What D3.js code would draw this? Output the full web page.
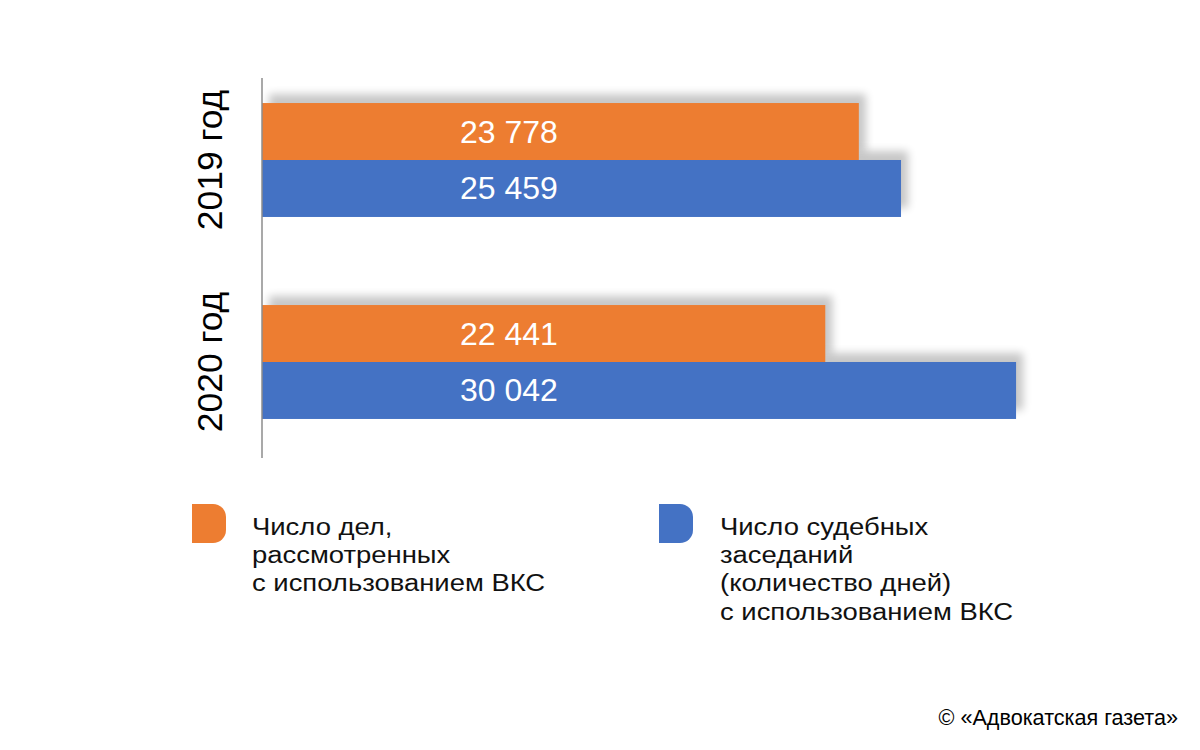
<!DOCTYPE html>
<html>
<head>
<meta charset="utf-8">
<script src="https://cdn.jsdelivr.net/npm/d3@7"></script>
<style>
  html, body { margin: 0; padding: 0; background: #fff; }
  svg { display: block; }
  text { font-family: "Liberation Sans", Arial, Helvetica, sans-serif; }
</style>
</head>
<body>
<script>
const years = ["2019 год", "2020 год"];
const seriesNames = ["cases", "sessions"];
const casesValues = [23778, 22441];
const sessionsValues = [25459, 30042];
const valueLabels = [["23 778", "25 459"], ["22 441", "30 042"]];
const legendLabels = [
  ["Число дел,", "рассмотренных", "с использованием ВКС"],
  ["Число судебных", "заседаний", "(количество дней)", "с использованием ВКС"]
];
const colors = ["#ED7D31", "#4472C4"];
const credit = "© «Адвокатская газета»";

const W = 1200, H = 750;
const svg = d3.select("body").append("svg").attr("width", W).attr("height", H);

const defs = svg.append("defs");
defs.append("filter").attr("id", "blur")
  .attr("x", "-20%").attr("y", "-50%").attr("width", "140%").attr("height", "200%")
  .append("feGaussianBlur").attr("stdDeviation", 4);

const x = d3.scaleLinear().domain([0, 30000]).range([262, 1015]);
const y = d3.scaleBand().domain(years).range([59, 463]).paddingInner(0.436).paddingOuter(0.218);
const ySub = d3.scaleBand().domain(seriesNames).range([0, y.bandwidth()]);

const data = [];
years.forEach((yr, i) => {
  data.push({ year: yr, series: "cases", value: casesValues[i], label: valueLabels[i][0], color: colors[0] });
  data.push({ year: yr, series: "sessions", value: sessionsValues[i], label: valueLabels[i][1], color: colors[1] });
});

// shadows
svg.append("g").selectAll("rect").data(data).join("rect")
  .attr("x", x(0) + 7)
  .attr("y", d => y(d.year) + ySub(d.series) - 9)
  .attr("width", d => x(d.value) - x(0))
  .attr("height", ySub.bandwidth())
  .attr("fill", "#000").attr("opacity", 0.22)
  .attr("filter", "url(#blur)");

// bars
svg.append("g").selectAll("rect").data(data).join("rect")
  .attr("x", x(0))
  .attr("y", d => y(d.year) + ySub(d.series))
  .attr("width", d => x(d.value) - x(0))
  .attr("height", ySub.bandwidth())
  .attr("fill", d => d.color);

// value labels
svg.append("g").selectAll("text").data(data).join("text")
  .attr("x", x(0) + 198)
  .attr("y", d => y(d.year) + ySub(d.series) + ySub.bandwidth() / 2 + 11)
  .attr("fill", "#fff")
  .attr("font-size", 32)
  .text(d => d.label);

// axis line
svg.append("line")
  .attr("x1", x(0)).attr("x2", x(0))
  .attr("y1", 78).attr("y2", 458)
  .attr("stroke", "#8c8c8c").attr("stroke-width", 1.5);

// year labels
svg.append("g").selectAll("text").data(years).join("text")
  .attr("transform", d => `translate(222,${y(d) + y.bandwidth() / 2}) rotate(-90)`)
  .attr("text-anchor", "middle")
  .attr("font-size", 35.5)
  .attr("fill", "#000")
  .text(d => d);

// legend
const legendPos = [{ x: 192, tx: 252 }, { x: 659, tx: 720 }];
const iconW = 34, iconH = 39, r = 13, iconY = 504;
legendLabels.forEach((lines, i) => {
  const g = svg.append("g");
  const ix = legendPos[i].x;
  g.append("path")
    .attr("d", `M${ix},${iconY} H${ix + iconW - r} A${r},${r} 0 0 1 ${ix + iconW},${iconY + r} V${iconY + iconH - r} A${r},${r} 0 0 1 ${ix + iconW - r},${iconY + iconH} H${ix} Z`)
    .attr("fill", colors[i]);
  g.selectAll("text").data(lines).join("text")
    .attr("transform", (d, j) => `translate(${legendPos[i].tx},${535 + j * 28.2}) scale(1.12,1)`)
    .attr("font-size", 24.5)
    .attr("fill", "#111")
    .text(d => d);
});

// credit
svg.append("text")
  .attr("x", 1178).attr("y", 725)
  .attr("text-anchor", "end")
  .attr("font-size", 21.6)
  .attr("fill", "#000")
  .text(credit);
</script>
</body>
</html>
